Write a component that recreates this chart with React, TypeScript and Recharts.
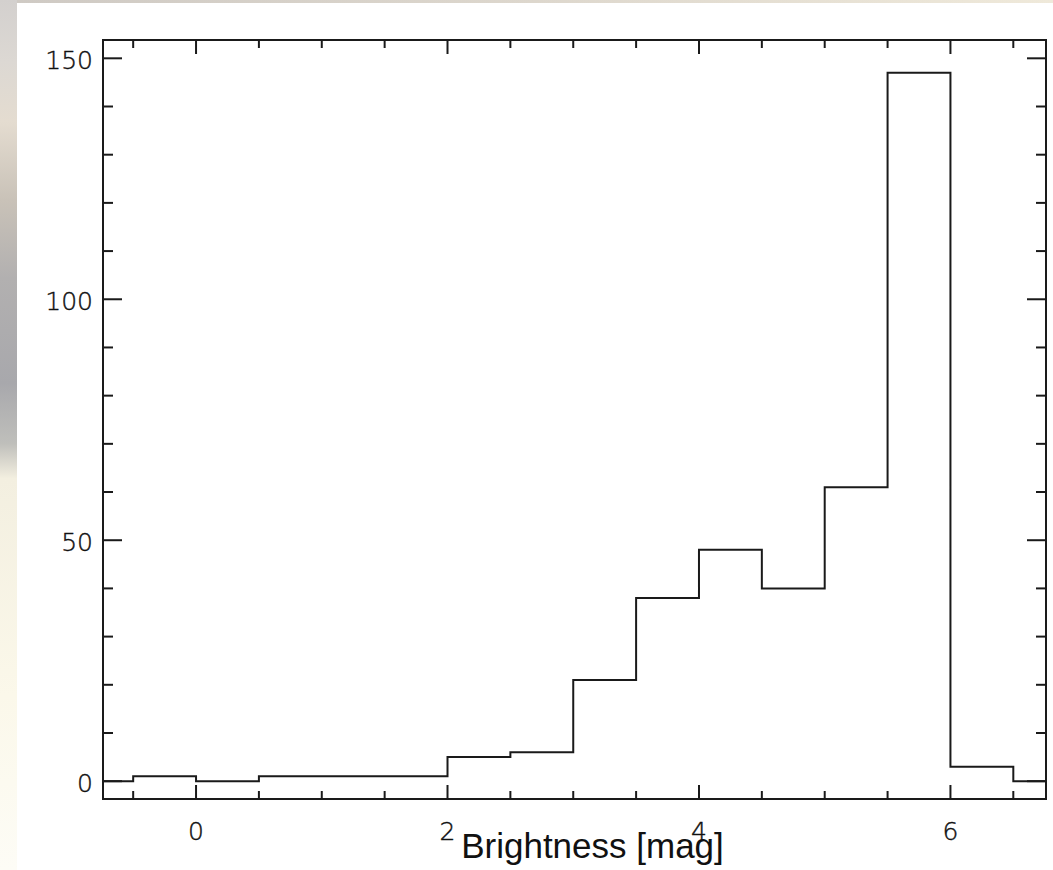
import React from 'react';
import { ComposedChart, Line, XAxis, YAxis, Label } from 'recharts';

// histogram: number of stars per 0.5 mag bin (left edge of each bin)
const binEdges = [-0.5, 0, 0.5, 1, 1.5, 2, 2.5, 3, 3.5, 4, 4.5, 5, 5.5, 6, 6.5];
const binCounts = [1, 0, 1, 1, 1, 5, 6, 21, 38, 48, 40, 61, 147, 3, 0];

const xDomain = [-0.74, 6.76];
const yDomain = [-3.7, 153.8];
const xTicks = [-0.5, 0, 0.5, 1, 1.5, 2, 2.5, 3, 3.5, 4, 4.5, 5, 5.5, 6, 6.5];
const xLabelTicks = [0, 2, 4, 6];
const yTicks = [0, 10, 20, 30, 40, 50, 60, 70, 80, 90, 100, 110, 120, 130, 140, 150];
const yLabelTicks = [0, 50, 100, 150];

const INK = '#1a1a1a';
const LABEL_FONT = '"DejaVu Sans", sans-serif';

// step line runs along zero from the left frame to the first bin and on to the right frame
const stepData = [
  { mag: xDomain[0], count: 0 },
  ...binEdges.map((mag, i) => ({ mag, count: binCounts[i] })),
  { mag: xDomain[1], count: 0 },
];

const tickText = {
  fontFamily: LABEL_FONT,
  fontWeight: 200,
  fontSize: 25,
  fill: '#111111',
  stroke: '#111111',
  strokeWidth: 0.4,
};

const BottomTick = (props: any) => {
  const { x, y, payload } = props;
  const major = xLabelTicks.includes(payload.value);
  return (
    <g>
      <line x1={x} x2={x} y1={y} y2={y - (major ? 14 : 8)} stroke={INK} strokeWidth={2} />
      {major && (
        <text x={x} y={y + 32} textAnchor="middle" dominantBaseline="central" {...tickText}>
          {payload.value}
        </text>
      )}
    </g>
  );
};

const TopTick = (props: any) => {
  const { x, y, payload } = props;
  const major = xLabelTicks.includes(payload.value);
  return <line x1={x} x2={x} y1={y} y2={y + (major ? 14 : 8)} stroke={INK} strokeWidth={2} />;
};

const LeftTick = (props: any) => {
  const { x, y, payload } = props;
  const major = yLabelTicks.includes(payload.value);
  return (
    <g>
      <line x1={x} x2={x + (major ? 19 : 10)} y1={y} y2={y} stroke={INK} strokeWidth={2} />
      {major && (
        <text x={x - 10} y={y + 2} textAnchor="end" dominantBaseline="central" {...tickText}>
          {payload.value}
        </text>
      )}
    </g>
  );
};

const RightTick = (props: any) => {
  const { x, y, payload } = props;
  const major = yLabelTicks.includes(payload.value);
  return <line x1={x} x2={x - (major ? 19 : 10)} y1={y} y2={y} stroke={INK} strokeWidth={2} />;
};

const frame = { stroke: INK, strokeWidth: 2, strokeLinecap: 'square' as const };

export default function App() {
  return (
    <div
      style={{
        position: 'fixed',
        left: 0,
        top: 0,
        width: 1053,
        height: 870,
        background: '#ffffff',
        overflow: 'hidden',
      }}
    >
      {/* backdrop edges around the plot image */}
      <div
        style={{
          position: 'absolute',
          left: 0,
          top: 0,
          width: 17,
          height: 870,
          background:
            'linear-gradient(to bottom, #d3d0ce 0%, #dcd8d3 7%, #e4dcd0 14%, #c9c2b8 23%, #b2b0b0 32%, #a8a8ac 44%, #bfbfbb 51%, #f3efe0 55%, #fbf8ea 80%, #fdfcf6 100%)',
        }}
      />
      <div
        style={{
          position: 'absolute',
          left: 17,
          top: 0,
          width: 1036,
          height: 3,
          background: 'linear-gradient(to right, #cfcac4 0%, #ddd7cd 50%, #efe9da 100%)',
        }}
      />
      <div style={{ position: 'absolute', left: 0, top: 0 }}>
        <ComposedChart
          width={1053}
          height={870}
          data={stepData}
          margin={{ top: 39, right: 6, bottom: 70, left: 102 }}
        >
          <XAxis
            xAxisId="bottom"
            dataKey="mag"
            type="number"
            domain={xDomain}
            ticks={xTicks}
            interval={0}
            allowDataOverflow
            height={1}
            tickSize={0}
            tickMargin={0}
            tickLine={false}
            axisLine={frame}
            tick={BottomTick}
          >
            <Label
              value="Brightness [mag]"
              position="bottom"
              offset={33}
              dx={18}
              style={{ fontFamily: '"Liberation Sans", Arial, sans-serif', fontSize: 35, fill: '#111' }}
            />
          </XAxis>
          <XAxis
            xAxisId="top"
            orientation="top"
            dataKey="mag"
            type="number"
            domain={xDomain}
            ticks={xTicks}
            interval={0}
            allowDataOverflow
            height={1}
            tickSize={0}
            tickMargin={0}
            tickLine={false}
            axisLine={frame}
            tick={TopTick}
          />
          <YAxis
            yAxisId="left"
            type="number"
            domain={yDomain}
            ticks={yTicks}
            interval={0}
            allowDataOverflow
            width={1}
            tickSize={0}
            tickMargin={0}
            tickLine={false}
            axisLine={frame}
            tick={LeftTick}
          />
          <YAxis
            yAxisId="right"
            orientation="right"
            type="number"
            domain={yDomain}
            ticks={yTicks}
            interval={0}
            allowDataOverflow
            width={1}
            tickSize={0}
            tickMargin={0}
            tickLine={false}
            axisLine={frame}
            tick={RightTick}
          />
          <Line
            xAxisId="bottom"
            yAxisId="left"
            type="stepAfter"
            dataKey="count"
            stroke={INK}
            strokeWidth={2}
            dot={false}
            activeDot={false}
            isAnimationActive={false}
          />
        </ComposedChart>
      </div>
    </div>
  );
}
